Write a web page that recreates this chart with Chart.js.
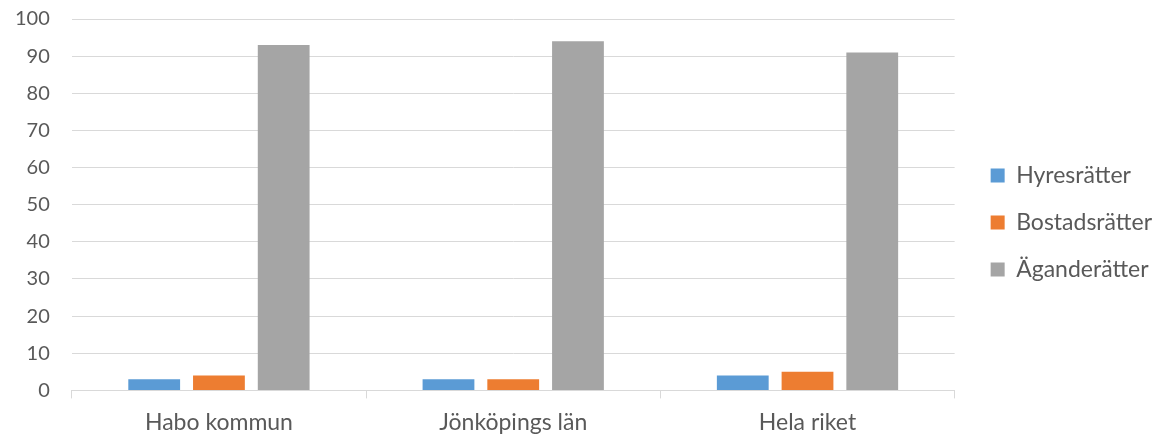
<!DOCTYPE html>
<html>
<head>
<meta charset="utf-8">
<script src="https://cdn.jsdelivr.net/npm/chart.js@4/dist/chart.umd.min.js"></script>
<style>
  html, body { margin: 0; padding: 0; background: #ffffff; }
  #wrap { width: 1163px; height: 436px; position: relative; }
</style>
</head>
<body>
<div id="wrap"><canvas id="c"></canvas></div>
<script>
// Upplåtelseform per område (procent)
const categories = ['Habo kommun', 'Jönköpings län', 'Hela riket'];
const seriesNames = ['Hyresrätter', 'Bostadsrätter', 'Äganderätter'];
const hyresratter = [3, 3, 4];
const bostadsratter = [4, 3, 5];
const aganderatter = [93, 94, 91];
const yTicks = [0, 10, 20, 30, 40, 50, 60, 70, 80, 90, 100];

const colors = ['#5B9BD5', '#ED7D31', '#A5A5A5'];
const textColor = '#595959';
const fontFamily = 'Lato, "Open Sans", "DejaVu Sans", sans-serif';

const values = [hyresratter, bostadsratter, aganderatter];

// Nudges the legend block to the right inside its layout box
const legendShift = {
  id: 'legendShift',
  afterLayout(chart) {
    if (chart.legend) {
      chart.legend.left += 12;
      chart.legend.right += 12;
    }
  }
};

new Chart(document.getElementById('c'), {
  type: 'bar',
  data: {
    labels: categories,
    datasets: seriesNames.map((name, i) => ({
      label: name,
      data: values[i],
      backgroundColor: colors[i],
      borderWidth: 0,
      categoryPercentage: 0.66,
      barPercentage: 0.8
    }))
  },
  plugins: [legendShift],
  options: {
    responsive: true,
    maintainAspectRatio: false,
    animation: false,
    layout: { padding: { top: -1, right: 13, left: -7, bottom: -10 } },
    plugins: {
      tooltip: { enabled: false },
      legend: {
        position: 'right',
        labels: {
          color: textColor,
          font: { family: fontFamily, size: 23 },
          boxWidth: 14,
          boxHeight: 14,
          padding: 24
        }
      }
    },
    scales: {
      x: {
        grid: {
          display: true,
          drawOnChartArea: false,
          drawTicks: true,
          tickLength: 8,
          color: '#d9d9d9',
          offset: true
        },
        border: { display: true, color: '#d9d9d9' },
        ticks: {
          color: textColor,
          font: { family: fontFamily, size: 23 },
          padding: 10
        }
      },
      y: {
        min: 0,
        max: 100,
        afterBuildTicks: (axis) => { axis.ticks = yTicks.map(v => ({ value: v })); },
        afterFit: (axis) => { axis.paddingTop = 19; axis.paddingBottom = 0; },
        grid: { color: '#d9d9d9', drawTicks: false },
        border: { display: false },
        ticks: {
          color: textColor,
          font: { family: fontFamily, size: 20 },
          padding: 22
        }
      }
    }
  }
});
</script>
</body>
</html>
